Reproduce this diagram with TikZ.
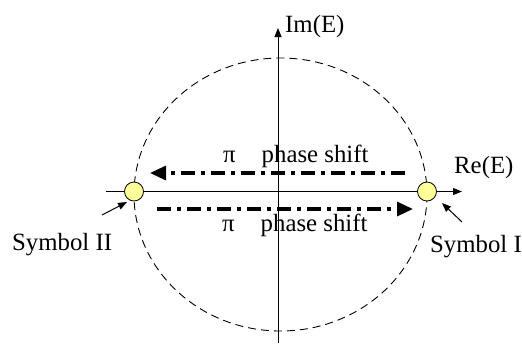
\documentclass[tikz,border=0pt]{standalone}
\usepackage{fontspec}
\setmainfont{Liberation Serif}
\usetikzlibrary{arrows.meta}
\definecolor{symyellow}{HTML}{FFFF99}
\tikzset{
  lbl/.style={inner sep=0pt, anchor=base west, font=\fontsize{24.8}{28}\selectfont},
  axis/.style={line width=1pt, -{Triangle[length=9pt,width=7pt]}},
  symbolpt/.style={circle, draw=black, line width=0.8pt, fill=symyellow, minimum size=19pt, inner sep=0pt},
  shiftarrow/.style={line width=3.2pt, dash pattern=on 14pt off 6pt on 4pt off 6pt, -{Triangle[length=16pt,width=14pt]}},
  pointer/.style={line width=1pt, -{Triangle[length=9pt,width=7pt]}},
  ring/.style={line width=0.9pt, dash pattern=on 8pt off 5pt}
}
\begin{document}
\begin{tikzpicture}[x=1pt,y=-1pt]
\useasboundingbox (0,0) rectangle (522,343);
% dashed circle
\draw[ring] (280.5,194.5) ellipse [x radius=146.5, y radius=136.5];
% axes
\coordinate (xL) at (106,191.5);
\coordinate (xR) at (462,191.5);
\coordinate (yB) at (278,343);
\coordinate (yT) at (278,28);
\draw[axis] (xL) -- (xR);
\draw[axis] (yB) -- (yT);
% labels of axes
\node[lbl] (im) at (285,32) {Im(E)};
\node[lbl] (re) at (454,173) {Re(E)};
% phase shift arrows
\coordinate (uS) at (405,173);
\coordinate (uE) at (150,173);
\coordinate (lS) at (157,209);
\coordinate (lE) at (413,209);
\draw[shiftarrow] (uS) -- (uE);
\draw[shiftarrow] (lS) -- (lE);
\node[lbl] (ptop) at (223,162) {π\hspace{26pt}phase shift};
\node[lbl] (pbot) at (222,231) {π\hspace{26pt}phase shift};
% symbols
\node[symbolpt] (s2) at (134,191.5) {};
\node[symbolpt] (s1) at (427,191.5) {};
\node[lbl] (t2) at (12,250) {Symbol II};
\node[lbl] (t1) at (430,252) {Symbol I};
\coordinate (p2s) at (102,215);
\coordinate (p2e) at (127,202);
\coordinate (p1s) at (462,222);
\coordinate (p1e) at (442,203);
\draw[pointer] (p2s) -- (p2e);
\draw[pointer] (p1s) -- (p1e);
\end{tikzpicture}
\end{document}
